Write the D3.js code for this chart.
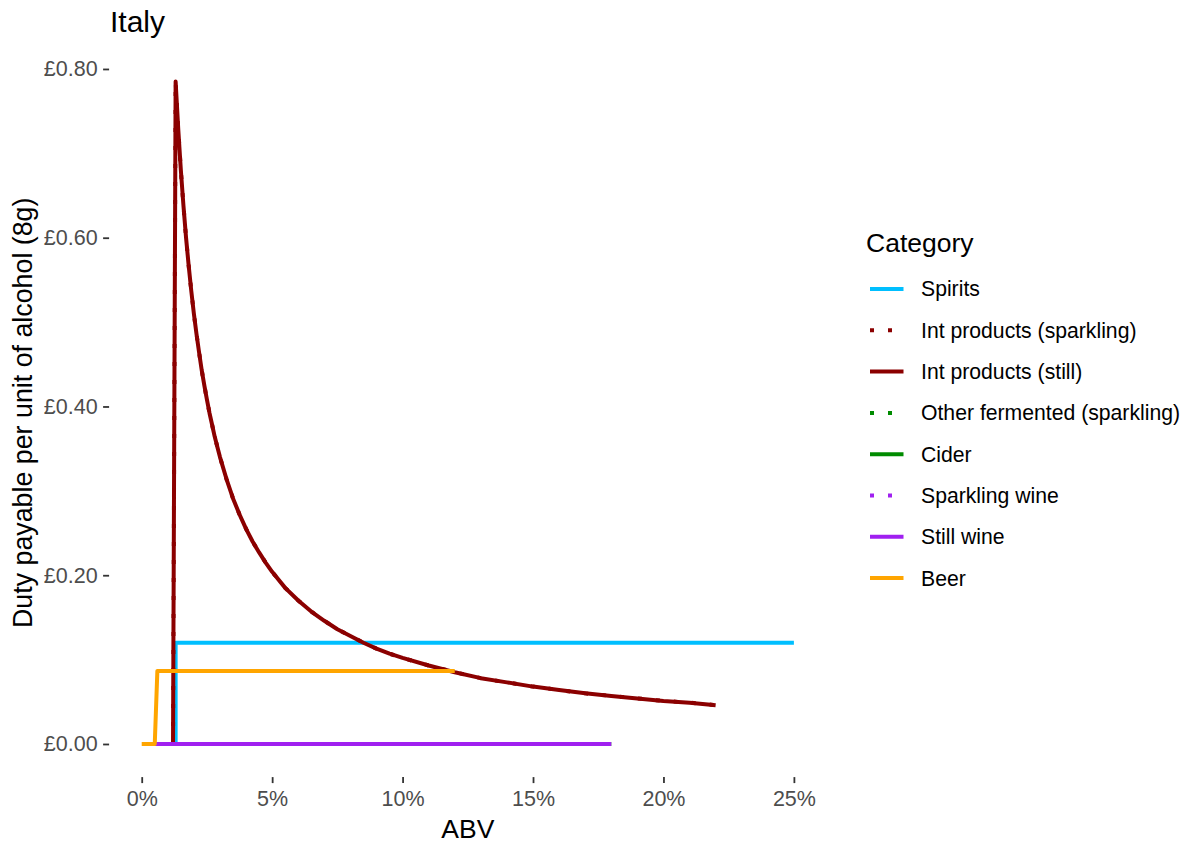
<!DOCTYPE html>
<html><head><meta charset="utf-8">
<script src="https://cdn.jsdelivr.net/npm/d3@7"></script>
<style>body{margin:0;background:#fff}svg{display:block;font-family:"Liberation Sans",Arial,sans-serif}</style>
</head><body><svg id="c" width="1189" height="847"></svg>
<script>
const categories = ["Spirits","Int products (sparkling)","Int products (still)","Other fermented (sparkling)","Cider","Sparkling wine","Still wine","Beer"];
const colors = ["#00BFFF","#8B0000","#8B0000","#008B00","#008B00","#A020F0","#A020F0","#FFA500"];
const dotted = [false,true,false,true,false,true,false,false];

const spiritsAbv = [1.3, 1.3, 25];
const spiritsDuty = [0, 0.12, 0.12];
const intAbv = [1.2,1.3,1.4,1.5,1.6,1.7,1.8,1.9,2.0,2.1,2.2,2.3,2.4,2.5,2.6,2.7,2.8,2.9,3.0,3.25,3.5,3.75,4.0,4.25,4.5,4.75,5.0,5.5,6.0,6.5,7.0,7.5,8.0,8.5,9,9.5,10,11,12,13,14,15,16,17,18,19,20,21,22];
const intDuty = [0,0.785,0.729,0.680,0.638,0.600,0.567,0.537,0.510,0.486,0.464,0.443,0.425,0.408,0.392,0.378,0.364,0.352,0.340,0.314,0.291,0.272,0.255,0.240,0.227,0.215,0.204,0.185,0.170,0.157,0.146,0.136,0.128,0.120,0.113,0.107,0.102,0.093,0.085,0.078,0.073,0.068,0.064,0.060,0.057,0.054,0.051,0.049,0.046];
const otherAbv = [0.5, 18];
const otherDuty = [0, 0];
const ciderAbv = [0.5, 18];
const ciderDuty = [0, 0];
const sparklingAbv = [0.5, 18];
const sparklingDuty = [0, 0];
const stillAbv = [0.5, 18];
const stillDuty = [0, 0];
const beerAbv = [0, 0.5, 0.6, 12];
const beerDuty = [0, 0, 0.0866, 0.0866];

const xTicks = [0, 5, 10, 15, 20, 25];
const yTicks = [0, 0.2, 0.4, 0.6, 0.8];

const seriesX = [spiritsAbv, intAbv, intAbv, otherAbv, ciderAbv, sparklingAbv, stillAbv, beerAbv];
const seriesY = [spiritsDuty, intDuty, intDuty, otherDuty, ciderDuty, sparklingDuty, stillDuty, beerDuty];
const series = categories.map((c, i) => ({
  name: c, color: colors[i], dotted: dotted[i],
  pts: seriesX[i].map((x, j) => [x, seriesY[i][j]])
}));

const svg = d3.select("#c");
const font = '"Liberation Sans",Arial,sans-serif';
const P = {left: 109.1, right: 826.5, top: 48.5, bottom: 777.1};

const allX = seriesX.flat(), allY = seriesY.flat();
const xe = d3.extent(allX), ye = d3.extent(allY);
const xpad = (xe[1]-xe[0])*0.05, ypad = (ye[1]-ye[0])*0.05;
const x = d3.scaleLinear().domain([xe[0]-xpad, xe[1]+xpad]).range([P.left, P.right]);
const y = d3.scaleLinear().domain([ye[0]-ypad, ye[1]+ypad]).range([P.bottom, P.top]);

const line = d3.line().x(d => x(d[0])).y(d => y(d[1]));
const lw = 4;

svg.append("g").selectAll("path").data(series).join("path")
  .attr("d", d => line(d.pts))
  .attr("fill", "none")
  .attr("stroke", d => d.color)
  .attr("stroke-width", lw)
  .attr("stroke-linejoin", "round")
  .attr("stroke-dasharray", d => d.dotted ? "4,14" : null);

// axes
const yAxis = svg.append("g").attr("transform", `translate(${P.left},0)`)
  .call(d3.axisLeft(y).tickValues(yTicks).tickSize(6).tickPadding(5.5).tickFormat(d => "£" + d.toFixed(2)));
const xAxis = svg.append("g").attr("transform", `translate(0,${P.bottom})`)
  .call(d3.axisBottom(x).tickValues(xTicks).tickSize(6).tickPadding(7.5).tickFormat(d => d + "%"));
[yAxis, xAxis].forEach(g => {
  g.select(".domain").remove();
  g.selectAll(".tick line").attr("stroke", "#333333").attr("stroke-width", 1.8);
  g.selectAll(".tick text").attr("fill", "#4D4D4D").attr("font-size", 21.5).attr("font-family", font);
});

// titles
svg.append("text").attr("x", 110).attr("y", 31.5).attr("font-size", 30).attr("font-family", font)
  .attr("fill", "#000").text("Italy");
svg.append("text").attr("x", (P.left+P.right)/2).attr("y", 838).attr("text-anchor", "middle")
  .attr("font-size", 26.5).attr("font-family", font).attr("fill", "#000").text("ABV");
svg.append("text").attr("transform", `translate(32,${(P.top+P.bottom)/2}) rotate(-90)`)
  .attr("text-anchor", "middle").attr("font-size", 26.8).attr("font-family", font).attr("fill", "#000")
  .text("Duty payable per unit of alcohol (8g)");

// legend
const lg = svg.append("g");
lg.append("text").attr("x", 866).attr("y", 252).attr("font-size", 26.5).attr("font-family", font)
  .attr("fill", "#000").text("Category");
const item = lg.selectAll("g.item").data(series).join("g").attr("class", "item")
  .attr("transform", (d, i) => `translate(0,${289 + i*41.3})`);
item.append("line").attr("x1", 870).attr("x2", 903.5).attr("y1", 0).attr("y2", 0)
  .attr("stroke", d => d.color).attr("stroke-width", lw)
  .attr("stroke-dasharray", d => d.dotted ? "4,14" : null);
item.append("text").attr("x", 921).attr("y", 0).attr("dy", "0.35em").attr("font-size", 21.2)
  .attr("font-family", font).attr("fill", "#000").text(d => d.name);
</script></body></html>
